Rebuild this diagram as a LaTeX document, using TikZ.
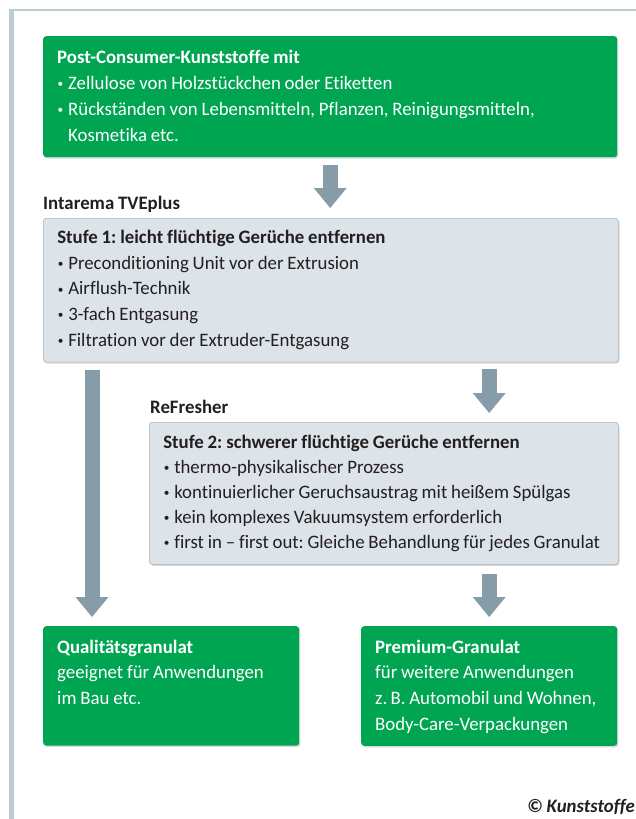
\documentclass[tikz,border=0pt]{standalone}
\usepackage{fontspec}
\setmainfont{Carlito}[Ligatures=NoCommon,WordSpace=0.9,FakeStretch=0.99]
\usetikzlibrary{arrows.meta,shadows,positioning}
\definecolor{kgreen}{HTML}{00A551}
\definecolor{kgrey}{HTML}{DCE3E9}
\definecolor{kline}{HTML}{A9B5BE}
\definecolor{karrow}{HTML}{879CA9}
\definecolor{kframe}{HTML}{BDCBD5}
\definecolor{ktext}{HTML}{231F20}
\newcommand{\bul}{\makebox[11pt][l]{\hspace{0.5pt}\raisebox{1.6pt}{\scalebox{0.6}{•}}}}
\newcommand{\topgap}[1]{\rule{0pt}{#1}}
\newcommand{\botgap}[1]{\rule[-#1]{0pt}{#1}}
\frenchspacing

\begin{document}
\begin{tikzpicture}[x=1pt,y=-1pt,
  box/.style={anchor=north west,align=flush left,inner xsep=14pt,inner ysep=0pt,rounded corners=3pt,
    font=\fontsize{19}{25.7}\selectfont,
    drop shadow={shadow xshift=1.2pt,shadow yshift=-1.5pt,opacity=.3}},
  greenbox/.style={box,fill=kgreen,text=white},
  greybox/.style={box,fill=kgrey,draw=kline,line width=.6pt,text=ktext},
  caption/.style={anchor=base west,inner sep=0pt,text=ktext,font=\fontsize{19}{25.7}\selectfont\bfseries},
  flow/.style={draw=karrow,line width=15pt,-{Triangle[width=33pt,length=20pt,line width=0pt]}}]
  \useasboundingbox (0,0) rectangle (636,819);
  \fill[kframe] (9,9) rectangle (636,11);
  \fill[kframe] (9,9) rectangle (14,819);

  \node[greenbox,text width=546pt,font=\fontsize{19}{26}\selectfont] (input) at (43,36)
    {\topgap{27pt}\textbf{Post-Consumer-Kunststoffe mit}\\
     \bul Zellulose von Holzstückchen oder Etiketten\\
     \bul Rückständen von Lebensmitteln, Pflanzen, Reinigungsmitteln,\\
     \hspace*{11pt}Kosmetika etc.\botgap{16pt}};

  \node[caption] (tve) at (43,209) {Intarema TVEplus};
  \node[greybox,text width=547pt] (stufe1) at (43,218)
    {\topgap{25pt}\textbf{Stufe 1: leicht flüchtige Gerüche entfernen}\\
     \bul Preconditioning Unit vor der Extrusion\\
     \bul Airflush-Technik\\
     \bul 3-fach Entgasung\\
     \bul Filtration vor der Extruder-Entgasung\botgap{16pt}};

  \node[caption] (refresher) at (150,413) {ReFresher};
  \node[greybox,text width=441pt,font=\fontsize{19}{25}\selectfont] (stufe2) at (149,422)
    {\topgap{26pt}\textbf{Stufe 2: schwerer flüchtige Gerüche entfernen}\\
     \bul thermo-physikalischer Prozess\\
     \bul kontinuierlicher Geruchsaustrag mit heißem Spülgas\\
     \bul kein komplexes Vakuumsystem erforderlich\\
     \bul first in – first out: Gleiche Behandlung für jedes Granulat\botgap{16pt}};

  \node[greenbox,text width=228pt] (quali) at (43,626)
    {\topgap{27pt}\textbf{Qualitätsgranulat}\\
     geeignet für Anwendungen\\
     im Bau etc.\botgap{41pt}};
  \node[greenbox,text width=228pt] (premium) at (361,626)
    {\topgap{27pt}\textbf{Premium-Granulat}\\
     für weitere Anwendungen\\
     z.\,B. Automobil und Wohnen,\\
     Body-Care-Verpackungen\botgap{15.5pt}};

  \node[anchor=base east,inner sep=0pt,text=ktext,font=\fontsize{19}{22}\selectfont\bfseries\itshape] (copy) at (635,812) {© Kunststoffe};

  \draw[flow,shorten <=8pt,shorten >=10pt] (input.south) -- (input.south |- stufe1.north);
  \draw[flow,shorten <=7pt,shorten >=9pt] (stufe1.south -| premium.north) -- (stufe2.north -| premium.north);
  \draw[flow,shorten <=9pt,shorten >=9pt] (stufe2.south -| premium.north) -- (premium.north);
  \draw[flow,shorten <=8pt,shorten >=9pt] ([xshift=49pt]stufe1.south west) -- ([xshift=49pt]quali.north west);
\end{tikzpicture}
\end{document}
